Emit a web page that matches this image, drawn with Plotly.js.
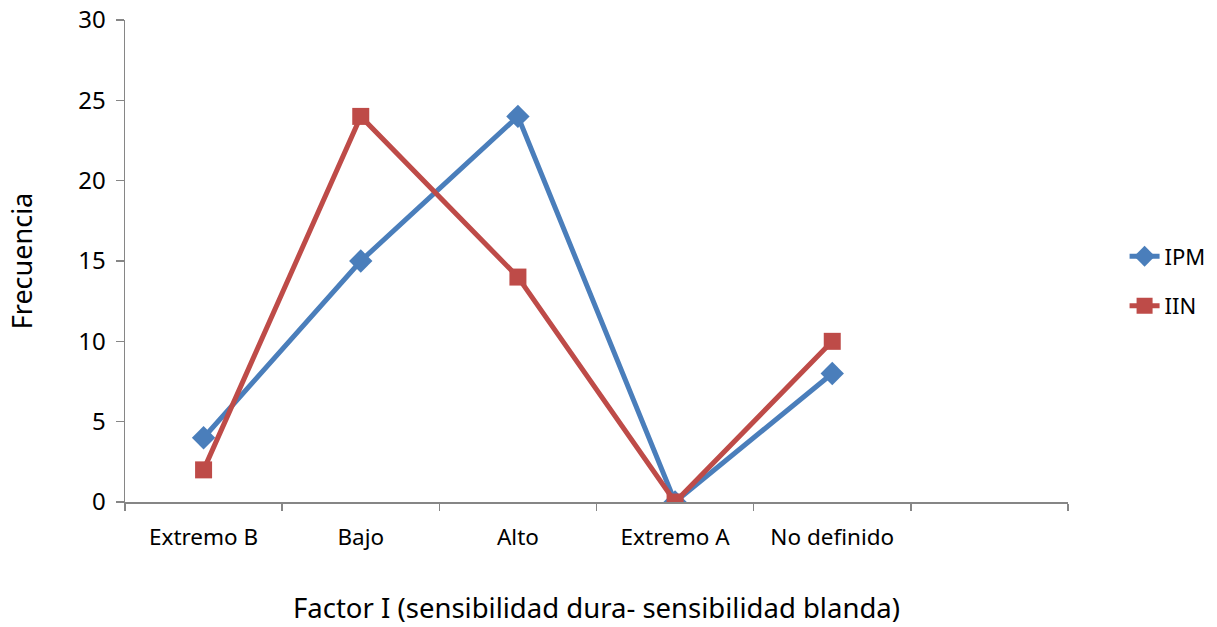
<!DOCTYPE html>
<html>
<head>
<meta charset="utf-8">
<script src="https://cdn.plot.ly/plotly-3.0.1.min.js"></script>
<style>html,body{margin:0;padding:0;background:#fff;}#chart{width:1217px;height:627px;}</style>
</head>
<body>
<div id="chart"></div>
<script>
const categories = ["Extremo B", "Bajo", "Alto", "Extremo A", "No definido"];
const ipm = [4, 15, 24, 0, 8];
const iin = [2, 24, 14, 0, 10];
const yTicks = [0, 5, 10, 15, 20, 25, 30];

const xIdx = categories.map((_, i) => i);
const boundaries = [];
for (let i = 0; i <= categories.length + 1; i++) boundaries.push(i - 0.5);

const FONT = "'Noto Sans', Lato, sans-serif";

const traces = [
  {
    x: xIdx, y: ipm, name: "IPM", type: "scatter", mode: "lines+markers",
    line: {color: "#4A7EBB", width: 5},
    marker: {symbol: "diamond", size: 18, color: "#4A7EBB"},
    legendgroup: "a"
  },
  {
    x: xIdx, y: iin, name: "IIN", type: "scatter", mode: "lines+markers",
    line: {color: "#BE4B48", width: 5},
    marker: {symbol: "square", size: 17, color: "#BE4B48"},
    legendgroup: "b"
  }
];

const layout = {
  width: 1217, height: 627,
  margin: {l: 125, r: 149, t: 20, b: 125, autoexpand: false},
  paper_bgcolor: "#fff", plot_bgcolor: "#fff",
  font: {family: FONT, color: "#000", size: 22},
  showlegend: true,
  legend: {x: 1.06, y: 0.553, xanchor: "left", yanchor: "top", tracegroupgap: 18,
           font: {size: 22, family: FONT}, bgcolor: "rgba(0,0,0,0)"},
  xaxis: {
    range: [-0.5, 5.5],
    tickvals: xIdx, ticktext: categories, ticks: "",
    showgrid: false, zeroline: false,
    showline: true, linecolor: "#868686", linewidth: 1.5,
    tickfont: {size: 22.5, family: FONT},
    ticklabelstandoff: 14,
    minor: {tickvals: boundaries, ticks: "outside", ticklen: 7, tickcolor: "#868686", tickwidth: 1.5, showgrid: false},
    title: {text: "Factor I (sensibilidad dura- sensibilidad blanda)", font: {size: 27.5, family: FONT}, standoff: 48},
    fixedrange: true
  },
  yaxis: {
    range: [0, 30],
    tickvals: yTicks, ticks: "outside", ticklen: 8, tickcolor: "#868686", tickwidth: 1.5,
    showgrid: false, zeroline: false,
    showline: true, linecolor: "#868686", linewidth: 1.5,
    tickfont: {size: 24, family: FONT},
    ticklabelstandoff: 5,
    title: {text: "Frecuencia", font: {size: 27, family: FONT}, standoff: 38},
    fixedrange: true
  }
};

Plotly.newPlot("chart", traces, layout, {displayModeBar: false, staticPlot: true});
</script>
</body>
</html>
